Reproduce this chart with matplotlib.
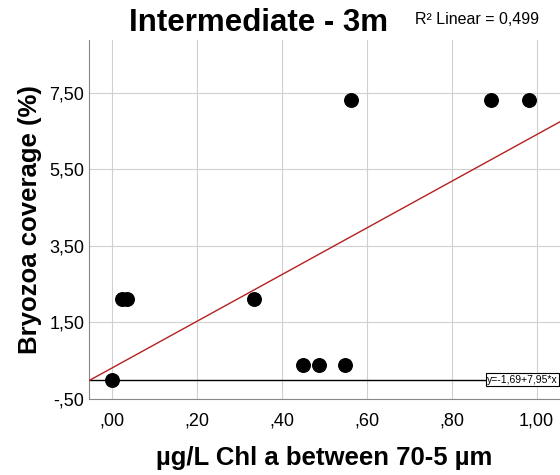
import numpy as np
import matplotlib
matplotlib.use('Agg')
import matplotlib.pyplot as plt
from matplotlib.ticker import FuncFormatter

plt.rcParams['font.family'] = ['Liberation Sans', 'DejaVu Sans']

chl = [0.0, 0.024, 0.036, 0.335, 0.45, 0.488, 0.549, 0.563, 0.893, 0.982]
bryozoa = [0.0, 2.1, 2.1, 2.1, 0.4, 0.4, 0.4, 7.3, 7.3, 7.3]
x_ticks = [0.0, 0.2, 0.4, 0.6, 0.8, 1.0]
y_ticks = [-0.5, 1.5, 3.5, 5.5, 7.5]


def spss_fmt(v, pos):
    s = '%.2f' % v
    if s.startswith('0.'):
        s = s[1:]
    elif s.startswith('-0.'):
        s = '-' + s[2:]
    return s.replace('.', ',')


fig = plt.figure(figsize=(5.6, 4.75), dpi=100)
ax = fig.add_axes([0.159, 0.16, 0.841, 0.756])

slope, intercept = np.polyfit(chl, bryozoa, 1)
xlim = (-0.053, 1.055)
xs = np.array(xlim)
ax.plot(xs, intercept + slope * xs, color='#b52020', lw=1, zorder=3)
ax.axhline(0, color='black', lw=1, zorder=2)
ax.scatter(chl, bryozoa, s=95, color='black', zorder=4)

ax.set_xlim(xlim)
ax.set_ylim(-0.5, 8.88)
ax.set_xticks(x_ticks)
ax.set_yticks(y_ticks)
ax.xaxis.set_major_formatter(FuncFormatter(spss_fmt))
ax.yaxis.set_major_formatter(FuncFormatter(spss_fmt))
ax.grid(True, color='#d0d0d0', lw=0.8, zorder=0)
ax.set_axisbelow(True)
for side in ['top', 'right']:
    ax.spines[side].set_visible(False)
for side in ['left', 'bottom']:
    ax.spines[side].set_color('#888888')
ax.tick_params(labelsize=13, length=0)
ax.tick_params(axis='x', pad=10)
ax.tick_params(axis='y', pad=3.5)

ax.set_xlabel('µg/L Chl a between 70-5 µm', fontsize=18.5, fontweight='bold', va='center')
ax.set_ylabel('Bryozoa coverage (%)', fontsize=18.5, fontweight='bold', va='center')
ax.xaxis.set_label_coords(0.5, -0.164)
ax.yaxis.set_label_coords(-0.125, 0.5)

fig.text(0.461, 0.951, 'Intermediate - 3m', fontsize=22.5, fontweight='bold', ha='center', va='center')
fig.text(0.741, 0.958, 'R² Linear = 0,499', fontsize=11.5, ha='left', va='center')

ax.text(1.05, 0.0, 'y=-1,69+7,95*x', fontsize=7.5, ha='right', va='center', zorder=5,
        bbox=dict(boxstyle='square,pad=0.15', fc='white', ec='black', lw=0.8))

fig.savefig('out.png', dpi=100)
